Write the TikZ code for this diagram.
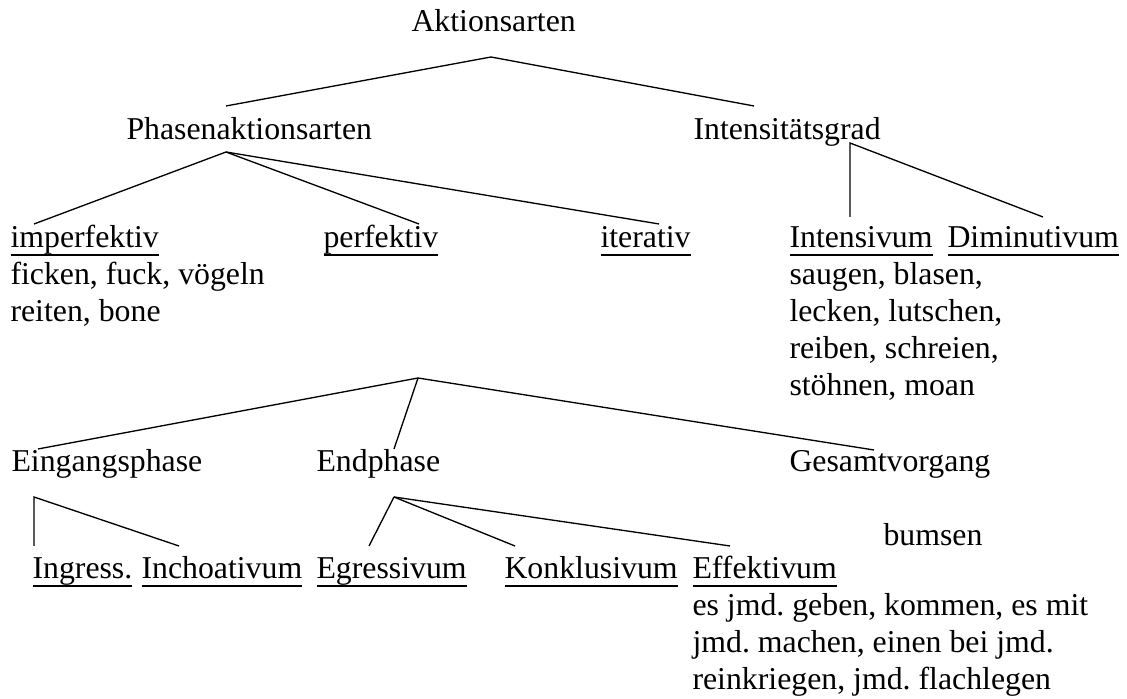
\documentclass[tikz,border=0pt]{standalone}
\usepackage{fontspec}
\setmainfont{Liberation Serif}
\usetikzlibrary{calc}
\frenchspacing
\newcommand{\uword}[1]{\setbox0\hbox{#1}\rlap{\rule[-2.9pt]{\wd0}{0.6pt}}\box0}

\begin{document}
\begin{tikzpicture}[
    x=0.3774pt, y=-0.3774pt,
    every node/.style={font=\fontsize{12}{14}\selectfont, inner sep=0pt, anchor=base west},
    verbs/.style={align=left},
    branch/.style={line width=0.5pt}
]
\useasboundingbox (0,0) rectangle (1127,699);

\node (akt) at (411,32) {Aktionsarten};
\node (phasen) at (126,140) {Phasenaktionsarten};
\node (intens) at (693,140) {Intensitätsgrad};

\node (imperf) at (10,248) {\uword{imperfektiv}};
\node (perf) at (323,248) {\uword{perfektiv}};
\node (iter) at (600,248) {\uword{iterativ}};
\node (intensiv) at (789,248) {\uword{Intensivum}};
\node (dimin) at (947,248) {\uword{Diminutivum}};

% multi-line nodes sit on their last line
\node[verbs] (imperfverbs) at (10,322) {ficken, fuck, vögeln\\reiten, bone};
\node[verbs] (intensverbs) at (789,396) {saugen, blasen,\\lecken, lutschen,\\reiben, schreien,\\stöhnen, moan};

\node (eing) at (11,472) {Eingangsphase};
\node (endph) at (316,472) {Endphase};
\node (gesamt) at (789,472) {Gesamtvorgang};
\node (bumsen) at (883,546) {bumsen};

\node (ingr) at (32,579) {\uword{Ingress.}};
\node (inch) at (141,579) {\uword{Inchoativum}};
\node (egr) at (316,579) {\uword{Egressivum}};
\node (konk) at (504,579) {\uword{Konklusivum}};
\node (eff) at (692,579) {\uword{Effektivum}};
\node[verbs] (effverbs) at (692,690) {es jmd. geben, kommen, es mit\\jmd. machen, einen bei jmd.\\reinkriegen, jmd. flachlegen};

% forks
\coordinate (aktfork) at ($(akt.base west)+(80,25)$);
\coordinate (phasenfork) at ($(phasen.base west)+(100,12)$);
\coordinate (intensfork) at ($(intens.base west)+(157,3)$);
\coordinate (perffork) at ($(perf.base west)+(95,130)$);
\coordinate (eingfork) at ($(eing.base west)+(23,25)$);
\coordinate (endphfork) at ($(endph.base west)+(78,25)$);

\draw[branch] ($(phasen.base west)+(100,-34)$) -- (aktfork) -- ($(intens.base west)+(61,-34)$);

\draw[branch] (phasenfork) -- ($(imperf.base west)+(24,-24)$);
\draw[branch] (phasenfork) -- ($(perf.base west)+(96,-24)$);
\draw[branch] (phasenfork) -- ($(iter.base west)+(59,-24)$);

\draw[branch] ($(intensiv.base west)+(61,-31)$) -- (intensfork) -- ($(dimin.base west)+(96,-31)$);

\draw[branch] (perffork) -- ($(eing.base west)+(27,-23)$);
\draw[branch] (perffork) -- ($(endph.base west)+(78,-23)$);
\draw[branch] (perffork) -- ($(gesamt.base west)+(85,-22)$);

\draw[branch] ($(ingr.base west)+(2,-33)$) -- (eingfork) -- ($(inch.base west)+(38,-33)$);

\draw[branch] (endphfork) -- ($(egr.base west)+(53,-33)$);
\draw[branch] (endphfork) -- ($(konk.base west)+(11,-33)$);
\draw[branch] (endphfork) -- ($(eff.base west)+(38,-33)$);

\end{tikzpicture}
\end{document}
